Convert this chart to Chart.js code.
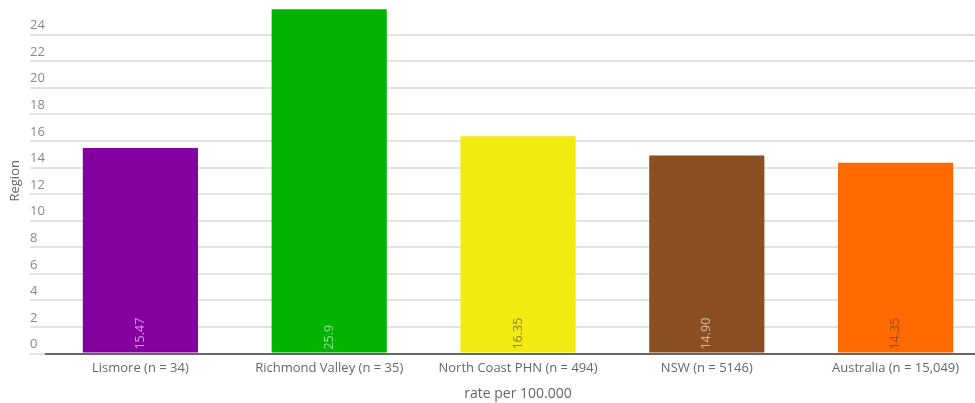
<!DOCTYPE html>
<html>
<head>
<meta charset="utf-8">
<script src="https://cdn.jsdelivr.net/npm/chart.js@4.4.1/dist/chart.umd.min.js"></script>
<style>
  html, body { margin: 0; padding: 0; background: #fff; overflow: hidden; }
  #wrap { position: relative; width: 990px; height: 403px; }
</style>
</head>
<body>
<div id="wrap"><canvas id="chart"></canvas></div>
<script>
const regions = ["Lismore (n = 34)", "Richmond Valley (n = 35)", "North Coast PHN (n = 494)", "NSW (n = 5146)", "Australia (n = 15,049)"];
const rates = [15.47, 25.9, 16.35, 14.90, 14.35];
const rateLabels = ["15.47", "25.9", "16.35", "14.90", "14.35"];
const barColors = ["#8400a0", "#00b400", "#f2ea10", "#8a4f24", "#ff6a00"];
const labelColors = ["rgba(255,255,255,0.6)", "rgba(255,255,255,0.6)", "rgba(90,90,60,0.7)", "rgba(255,255,255,0.6)", "rgba(120,60,40,0.7)"];

// value text drawn rotated at the bottom of each bar
const barText = {
    id: "barText",
    afterDatasetsDraw(chart) {
        const ctx = chart.ctx;
        const meta = chart.getDatasetMeta(0);
        ctx.save();
        ctx.font = "12.5px 'Open Sans'";
        ctx.textAlign = "left";
        ctx.textBaseline = "middle";
        meta.data.forEach((bar, i) => {
            ctx.save();
            ctx.translate(bar.x, bar.base - 3);
            ctx.rotate(-Math.PI / 2);
            ctx.fillStyle = labelColors[i];
            ctx.fillText(rateLabels[i], 0, 0);
            ctx.restore();
        });
        ctx.restore();
    }
};

const ctx = document.getElementById("chart").getContext("2d");
const myChart = new Chart(ctx, {
    type: "bar",
    data: {
        labels: regions,
        datasets: [{
            data: rates,
            backgroundColor: barColors,
            barPercentage: 0.61,
            categoryPercentage: 1
        }]
    },
    options: {
        responsive: true,
        maintainAspectRatio: false,
        animation: false,
        layout: { padding: { top: 8, right: 0, left: 0, bottom: 0 } },
        plugins: { legend: { display: false }, tooltip: { enabled: false } },
        scales: {
            x: {
                grid: { display: false, drawTicks: false },
                border: { color: "#666", width: 2 },
                ticks: { color: "#666", font: { family: "'Open Sans'", size: 13 }, padding: 7, maxRotation: 0 },
                title: { display: true, text: "rate per 100.000", color: "#666", font: { family: "'Open Sans'", size: 14 }, padding: { top: 2, bottom: 1 } }
            },
            y: {
                min: 0,
                max: 26,
                afterBuildTicks: (scale) => { scale.ticks = scale.ticks.filter(t => t.value <= 24); },
                afterFit: (scale) => { scale.width = 46; },
                grid: { color: "#e2e2e2", lineWidth: 2, drawTicks: true, tickLength: 16 },
                border: { display: false },
                ticks: { stepSize: 2, mirror: true, padding: -16, labelOffset: -9, color: "#888", font: { family: "'Open Sans'", size: 13 } },
                title: { display: true, text: "Region", color: "#666", font: { family: "'Open Sans'", size: 13 }, padding: { top: 7, bottom: 0 } }
            }
        }
    },
    plugins: [barText]
});
</script>
</body>
</html>
